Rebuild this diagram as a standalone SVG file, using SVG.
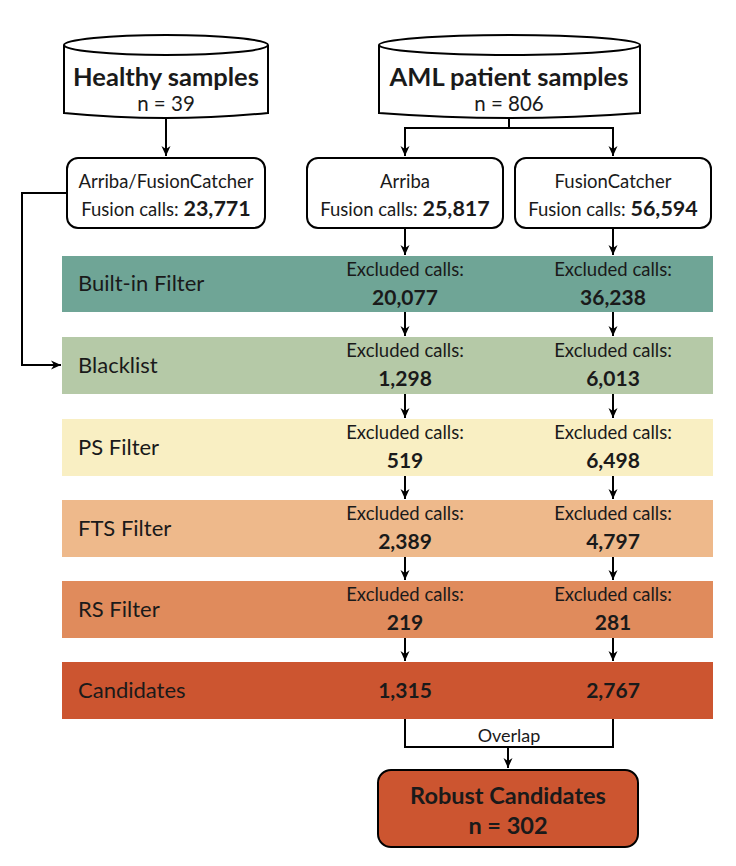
<svg xmlns="http://www.w3.org/2000/svg" width="736" height="866" viewBox="0 0 736 866">
<defs>
<marker id="ah" viewBox="0 0 10 12" refX="10" refY="6" markerWidth="10" markerHeight="12" markerUnits="userSpaceOnUse" orient="auto">
<path d="M0,1.5 L10,6 L0,10.5 L3,6 Z" fill="#000"/>
</marker>
<style>
text{font-family:Lato,"Liberation Sans",sans-serif;fill:#1a1a1a}
.box{fill:#fff;stroke:#000;stroke-width:2}
.conn{fill:none;stroke:#000;stroke-width:2}
.arr{marker-end:url(#ah)}
.lbl{font-size:22px}
.ex{font-size:18.5px;text-anchor:middle}
.num{font-size:21px;font-weight:bold;text-anchor:middle}
.mid{text-anchor:middle}
</style>
</defs>
<rect width="736" height="866" fill="#fff"/>

<g id="bands">
<g id="builtin"><rect x="62" y="256" width="651" height="56" fill="#6fa596"/>
<text class="lbl" x="78" y="291">Built-in Filter</text>
<text class="ex" x="405" y="276">Excluded calls:</text><text class="num" x="405" y="305">20,077</text>
<text class="ex" x="613" y="276">Excluded calls:</text><text class="num" x="613" y="305">36,238</text></g>
<g id="blacklist"><rect x="62" y="337" width="651" height="57" fill="#b5c9a7"/>
<text class="lbl" x="78" y="373">Blacklist</text>
<text class="ex" x="405" y="357">Excluded calls:</text><text class="num" x="405" y="386">1,298</text>
<text class="ex" x="613" y="357">Excluded calls:</text><text class="num" x="613" y="386">6,013</text></g>
<g id="ps"><rect x="62" y="419" width="651" height="57" fill="#f9efc3"/>
<text class="lbl" x="78" y="455">PS Filter</text>
<text class="ex" x="405" y="439">Excluded calls:</text><text class="num" x="405" y="468">519</text>
<text class="ex" x="613" y="439">Excluded calls:</text><text class="num" x="613" y="468">6,498</text></g>
<g id="fts"><rect x="62" y="500" width="651" height="57" fill="#eeb98b"/>
<text class="lbl" x="78" y="536">FTS Filter</text>
<text class="ex" x="405" y="520">Excluded calls:</text><text class="num" x="405" y="549">2,389</text>
<text class="ex" x="613" y="520">Excluded calls:</text><text class="num" x="613" y="549">4,797</text></g>
<g id="rs"><rect x="62" y="581" width="651" height="57" fill="#e08b5c"/>
<text class="lbl" x="78" y="617">RS Filter</text>
<text class="ex" x="405" y="601">Excluded calls:</text><text class="num" x="405" y="630">219</text>
<text class="ex" x="613" y="601">Excluded calls:</text><text class="num" x="613" y="630">281</text></g>
<g id="candidates"><rect x="62" y="662" width="651" height="57" fill="#cc5530"/>
<text class="lbl" x="78" y="698">Candidates</text>
<text class="num" x="405" y="698">1,315</text>
<text class="num" x="613" y="698">2,767</text></g>
</g>

<g id="healthy">
<path class="box" d="M64,45 A102,10 0 0 1 268,45 L268,113 Q166,123 64,113 Z"/>
<path class="conn" d="M64,45 A102,10 0 0 0 268,45"/>
<text class="mid" x="166" y="86" font-size="25.5" font-weight="bold">Healthy samples</text>
<text class="mid" x="166" y="111" font-size="20.5">n = 39</text>
</g>

<g id="aml">
<path class="box" d="M379,45 A130.5,10 0 0 1 640,45 L640,113 Q509.5,123 379,113 Z"/>
<path class="conn" d="M379,45 A130.5,10 0 0 0 640,45"/>
<text class="mid" x="509" y="86" font-size="25.5" font-weight="bold">AML patient samples</text>
<text class="mid" x="509" y="111" font-size="20.5">n = 806</text>
</g>

<g id="healthy-caller">
<rect class="box" x="67" y="158" width="198" height="70" rx="11"/>
<text class="mid" x="166" y="188" font-size="18.5">Arriba/FusionCatcher</text>
<text class="mid" x="166" y="216" font-size="18.5">Fusion calls: <tspan font-weight="bold" font-size="21.5">23,771</tspan></text>
</g>

<g id="arriba">
<rect class="box" x="307" y="158" width="196" height="70" rx="11"/>
<text class="mid" x="405" y="188" font-size="18.5">Arriba</text>
<text class="mid" x="405" y="216" font-size="18.5">Fusion calls: <tspan font-weight="bold" font-size="21.5">25,817</tspan></text>
</g>

<g id="fusioncatcher">
<rect class="box" x="515" y="158" width="196" height="70" rx="11"/>
<text class="mid" x="613" y="188" font-size="18.5">FusionCatcher</text>
<text class="mid" x="613" y="216" font-size="18.5">Fusion calls: <tspan font-weight="bold" font-size="21.5">56,594</tspan></text>
</g>

<g id="robust">
<rect x="378" y="770" width="260" height="77" rx="13" fill="#cc5530" stroke="#000" stroke-width="2"/>
<text class="mid" x="508" y="804" font-size="23.5" font-weight="bold">Robust Candidates</text>
<text class="mid" x="508" y="834" font-size="23.5" font-weight="bold">n = 302</text>
</g>

<g id="connectors">
<path class="conn arr" d="M166,118 L166,156"/>
<path class="conn" d="M509,118 L509,128 M405,128 L613,128"/>
<path class="conn arr" d="M405,127 L405,156"/>
<path class="conn arr" d="M613,127 L613,156"/>
<path class="conn arr" d="M67,193 L22,193 L22,365 L61,365"/>
<path class="conn arr" d="M405,228 L405,255"/>
<path class="conn arr" d="M613,228 L613,255"/>
<path class="conn arr" d="M405,312 L405,336"/>
<path class="conn arr" d="M613,312 L613,336"/>
<path class="conn arr" d="M405,394 L405,418"/>
<path class="conn arr" d="M613,394 L613,418"/>
<path class="conn arr" d="M405,476 L405,499"/>
<path class="conn arr" d="M613,476 L613,499"/>
<path class="conn arr" d="M405,557 L405,580"/>
<path class="conn arr" d="M613,557 L613,580"/>
<path class="conn arr" d="M405,638 L405,661"/>
<path class="conn arr" d="M613,638 L613,661"/>
<path class="conn" d="M405,719 L405,747 L613,747 L613,719"/>
<path class="conn arr" d="M508,747 L508,768"/>
<text class="mid" x="509" y="742" font-size="18">Overlap</text>
</g>
</svg>
